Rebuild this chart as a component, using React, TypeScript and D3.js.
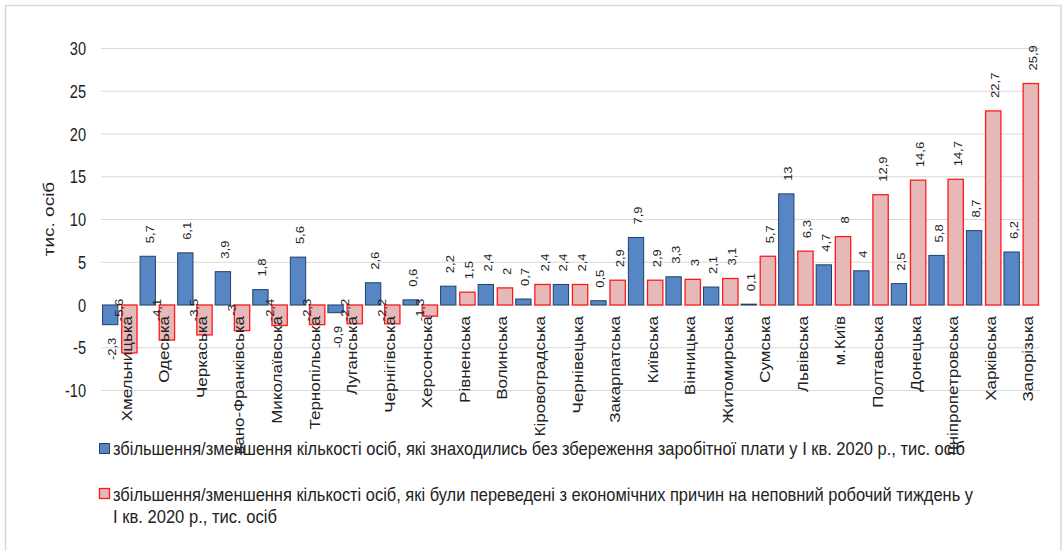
import React from 'react';
import * as d3 from 'd3';

const categories = [
  'Хмельницька', 'Одеська', 'Черкаська', 'Івано-Франківська', 'Миколаївська',
  'Тернопільська', 'Луганська', 'Чернігівська', 'Херсонська', 'Рівненська',
  'Волинська', 'Кіровоградська', 'Чернівецька', 'Закарпатська', 'Київська',
  'Вінницька', 'Житомирська', 'Сумська', 'Львівська', 'м.Київ',
  'Полтавська', 'Донецька', 'Дніпропетровська', 'Харківська', 'Запорізька',
];
const withoutPay = [
  -2.3, 5.7, 6.1, 3.9, 1.8, 5.6, -0.9, 2.6, 0.6, 2.2, 2.4, 0.7, 2.4, 0.5, 7.9,
  3.3, 2.1, 0.1, 13, 4.7, 4, 2.5, 5.8, 8.7, 6.2,
];
const partTime = [
  -5.6, -4.1, -3.5, -3, -2.4, -2.3, -2.2, -2.2, -1.3, 1.5, 2, 2.4, 2.4, 2.9, 2.9,
  3, 3.1, 5.7, 6.3, 8, 12.9, 14.6, 14.7, 22.7, 25.9,
];
const yTicks = [-10, -5, 0, 5, 10, 15, 20, 25, 30];
const yTitle = 'тис. осіб';
const seriesKeys = ['withoutPay', 'partTime'];
const legendBlue = ['збільшення/зменшення кількості осіб, які знаходились без збереження заробітної плати у І кв. 2020 р., тис. осіб'];
const legendRed = [
  'збільшення/зменшення кількості осіб, які були переведені з економічних причин на неповний робочий тиждень у',
  'І кв. 2020 р., тис. осіб',
];

const W = 1064;
const H = 551;
const SX = 0.81;
const FONT = '"Liberation Sans", Arial, sans-serif';
const TXT = '#222';

const BLUE_FILL = '#5686c4';
const BLUE_STROKE = '#233f6b';
const RED_FILL = '#e6b9b8';
const RED_STROKE = '#ff1a1a';

const fmt = (v: number) => String(v).replace('.', ',');

export default function App() {
  const x0 = d3.scaleBand<string>().domain(categories).range([101, 1040]).padding(0);
  const x1 = d3
    .scaleBand<string>()
    .domain(seriesKeys)
    .range([0, x0.bandwidth()])
    .paddingInner(0.2)
    .paddingOuter(0.08);
  const y = d3.scaleLinear().domain([-10, 30]).range([390.5, 48.5]);
  const y0 = y(0);
  const bw = x1.bandwidth();

  const series = [
    { key: 'withoutPay', values: withoutPay, fill: BLUE_FILL, stroke: BLUE_STROKE, sw: 1 },
    { key: 'partTime', values: partTime, fill: RED_FILL, stroke: RED_STROKE, sw: 1.3 },
  ];

  return (
    <svg
      width={W}
      height={H}
      style={{ position: 'absolute', left: 0, top: 0, background: '#fff' }}
      fontFamily={FONT}
    >
      <defs>
        <clipPath id="catclip">
          <rect x={0} y={0} width={W} height={454} />
        </clipPath>
      </defs>
      <rect x={0} y={0} width={W} height={H} fill="#fff" />
      <rect x={5.5} y={5.5} width={1055.5} height={600} fill="none" stroke="#d9d9d9" strokeWidth={1.5} />

      {yTicks.map((t) => (
        <line key={'g' + t} x1={101} x2={1040} y1={y(t)} y2={y(t)} stroke="#d9d9d9" strokeWidth={1} />
      ))}
      {yTicks.map((t) => (
        <text
          key={'t' + t}
          transform={`translate(86,${y(t)}) scale(${SX},1)`}
          textAnchor="end"
          dominantBaseline="central"
          fontSize={18}
          fill={TXT}
        >
          {t}
        </text>
      ))}
      <text
        transform={`translate(54,219) scale(${SX},1) rotate(-90)`}
        textAnchor="middle"
        fontSize={19}
        fill={TXT}
      >
        {yTitle}
      </text>

      {series.map((s) =>
        categories.map((c, i) => {
          const v = s.values[i];
          const bx = (x0(c) as number) + (x1(s.key) as number);
          const yt = Math.min(y(v), y0);
          const h = Math.abs(y(v) - y0);
          return (
            <rect
              key={s.key + c}
              x={bx}
              y={yt}
              width={bw}
              height={h}
              fill={s.fill}
              stroke={s.stroke}
              strokeWidth={s.sw}
            />
          );
        })
      )}

      <g clipPath="url(#catclip)">
        {categories.map((c) => {
          const cx = (x0(c) as number) + x0.bandwidth() / 2;
          return (
            <text
              key={'c' + c}
              transform={`translate(${cx + 12},316) scale(${SX},1) rotate(-90)`}
              textAnchor="end"
              fontSize={17}
              fill={TXT}
            >
              {c}
            </text>
          );
        })}
      </g>

      {series.map((s) =>
        categories.map((c, i) => {
          const v = s.values[i];
          const bx = (x0(c) as number) + (x1(s.key) as number) + bw / 2;
          let tx = bx + 6;
          let ty: number;
          let anchor: 'start' | 'end' | 'middle';
          if (v >= 0) {
            ty = y(v) - 13;
            anchor = 'start';
          } else if (s.key === 'withoutPay') {
            ty = y(v) + 13;
            anchor = 'end';
          } else {
            tx = bx - 6;
            ty = y0 + 5;
            anchor = 'middle';
          }
          return (
            <text
              key={'l' + s.key + c}
              transform={`translate(${tx},${ty}) scale(${SX},1) rotate(-90)`}
              textAnchor={anchor}
              fontSize={13}
              fill={TXT}
            >
              {fmt(v)}
            </text>
          );
        })
      )}

      <rect x={99.5} y={443.5} width={10} height={10} fill={BLUE_FILL} stroke={BLUE_STROKE} strokeWidth={1} />
      {legendBlue.map((l, k) => (
        <text key={'lb' + k} x={113} y={455 + k * 23} fontSize={19} fill={TXT} textLength={852} lengthAdjust="spacingAndGlyphs">
          {l}
        </text>
      ))}
      <rect x={99.5} y={488.5} width={10} height={10} fill={RED_FILL} stroke={RED_STROKE} strokeWidth={1.3} />
      {legendRed.map((l, k) => (
        <text
          key={'lr' + k}
          x={113}
          y={501 + k * 22}
          fontSize={19}
          fill={TXT}
          textLength={k === 0 ? 860 : 164}
          lengthAdjust="spacingAndGlyphs"
        >
          {l}
        </text>
      ))}
    </svg>
  );
}
